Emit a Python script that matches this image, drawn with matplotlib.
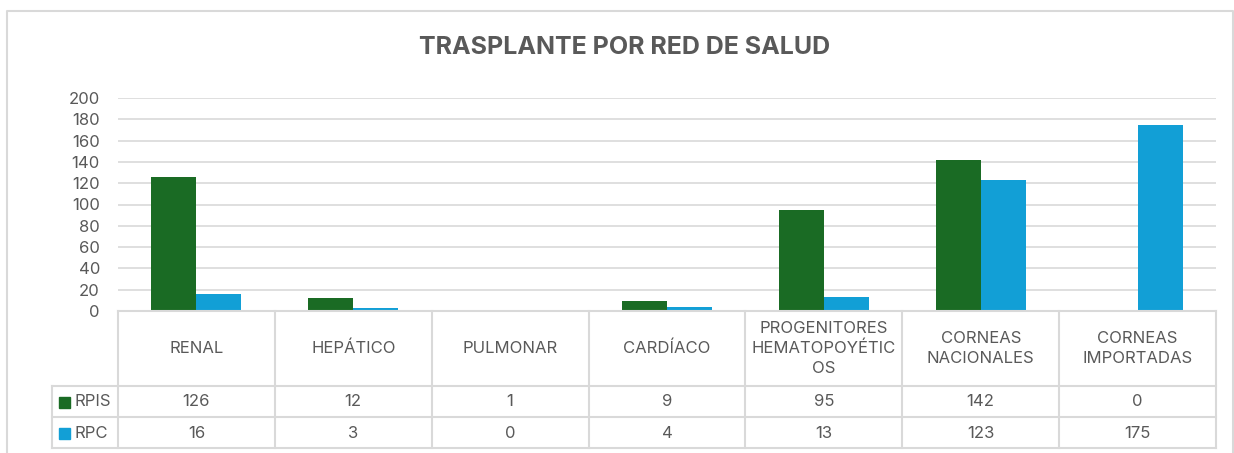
import numpy as np
import matplotlib.pyplot as plt
from matplotlib.patches import Rectangle
from matplotlib.lines import Line2D

categorias = ["RENAL", "HEPÁTICO", "PULMONAR", "CARDÍACO",
              "PROGENITORES\nHEMATOPOYÉTIC\nOS", "CORNEAS\nNACIONALES",
              "CORNEAS\nIMPORTADAS"]
rpis = [126, 12, 1, 9, 95, 142, 0]
rpc = [16, 3, 0, 4, 13, 123, 175]
series = ["RPIS", "RPC"]
colores = ["#1a6b24", "#129fd6"]

plt.rcParams['font.family'] = ['Inter', 'DejaVu Sans']
W, H = 1234, 453
fig = plt.figure(figsize=(W / 100, H / 100), dpi=100)

def fx(px):
    return px / W

def fy(py):
    return 1 - py / H

gris = "#d9d9d9"
texto = "#595959"
fs = 12

# marco del gráfico
fig.add_artist(Line2D([fx(7), fx(7), fx(1233), fx(1233)],
                      [0, fy(11), fy(11), 0], color=gris, lw=1.5))

ax = fig.add_axes([fx(118), fy(311), fx(1216) - fx(118), fy(98) - fy(311)])
x = np.arange(len(categorias))
w = 0.287
ax.bar(x - w / 2, rpis, w, color=colores[0], zorder=3)
ax.bar(x + w / 2, rpc, w, color=colores[1], zorder=3)
ax.set_xlim(-0.5, len(categorias) - 0.5)
ax.set_ylim(0, 200)
ax.set_yticks(np.arange(0, 201, 20))
ax.yaxis.grid(True, color=gris, lw=1.2, zorder=0)
ax.set_xticks([])
for s in ax.spines.values():
    s.set_visible(False)
ax.tick_params(axis='y', length=0, labelsize=fs, labelcolor=texto, pad=13)

fig.text(fx(625), fy(48), "TRASPLANTE POR RED DE SALUD", ha='center', va='center',
         fontsize=18, fontweight='bold', color=texto)

# tabla de datos
x0, x1 = 118, 1216
cw = (x1 - x0) / len(categorias)
ys = [311, 386, 417, 448]
fig.add_artist(Line2D([fx(x0), fx(x1)], [fy(ys[0]), fy(ys[0])], color=gris, lw=1.5))
for yy in ys[1:]:
    fig.add_artist(Line2D([fx(52), fx(x1)], [fy(yy), fy(yy)], color=gris, lw=1.5))
fig.add_artist(Line2D([fx(52), fx(52)], [fy(386), fy(448)], color=gris, lw=1.5))
for i in range(len(categorias) + 1):
    xx = x0 + i * cw
    fig.add_artist(Line2D([fx(xx), fx(xx)], [fy(311), fy(448)], color=gris, lw=1.5))

for i, c in enumerate(categorias):
    cx = x0 + (i + 0.5) * cw
    fig.text(fx(cx), fy(348.5), c, ha='center', va='center', fontsize=fs,
             color=texto, linespacing=1.35)
    fig.text(fx(cx), fy(402), str(rpis[i]), ha='center', va='center', fontsize=fs, color=texto)
    fig.text(fx(cx), fy(433), str(rpc[i]), ha='center', va='center', fontsize=fs, color=texto)

for k, (nombre, col) in enumerate(zip(series, colores)):
    yc = 402 + k * 31
    fig.add_artist(Rectangle((fx(59), fy(yc + 5.5)), fx(11), fy(0) - fy(11),
                             color=col, transform=fig.transFigure))
    fig.text(fx(74), fy(yc), nombre, ha='left', va='center', fontsize=fs, color=texto)

fig.savefig("out.png", dpi=100)
